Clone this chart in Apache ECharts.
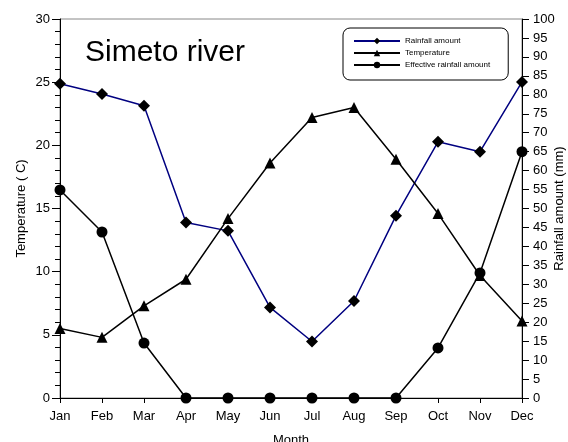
<!DOCTYPE html>
<html>
<head>
<meta charset="utf-8">
<script src="https://cdn.jsdelivr.net/npm/echarts@6/dist/echarts.min.js"></script>
<style>
  html, body { margin: 0; padding: 0; background: #fff; }
  #tuxing { width: 568px; height: 442px; }
</style>
</head>
<body>
<div id="tuxing"></div>
<script>
// 数据
var months = ['Jan', 'Feb', 'Mar', 'Apr', 'May', 'Jun', 'Jul', 'Aug', 'Sep', 'Oct', 'Nov', 'Dec'];
var rainfall = [82.9, 80.2, 77.1, 46.3, 44.1, 23.9, 14.9, 25.6, 48.1, 67.6, 65.0, 83.4];
var temperature = [5.5, 4.8, 7.3, 9.4, 14.2, 18.6, 22.2, 23.0, 18.9, 14.6, 9.7, 6.1];
var effectiveRain = [54.9, 43.8, 14.5, 0, 0, 0, 0, 0, 0, 13.2, 33.0, 65.0];

var myChart = echarts.init(document.getElementById('tuxing'));

var font = 'Liberation Sans, Arial, sans-serif';

option = {
	animation: false,
	title: {
		text: 'Simeto river',
		left: 80,
		top: 33,
		textStyle: {
			fontFamily: font,
			fontSize: 30,
			fontWeight: 'normal',
			color: '#000'
		}
	},
	legend: {
		left: 343,
		top: 28,
		orient: 'vertical',
		padding: [9, 18, 11, 10],
		itemGap: 4,
		itemWidth: 46,
		itemHeight: 8,
		borderColor: '#000',
		borderWidth: 1,
		borderRadius: 7,
		textStyle: {
			fontFamily: font,
			fontSize: 8,
			color: '#000'
		},
		data: ['Rainfall amount', 'Temperature', 'Effective rainfall amount']
	},
	grid: {
		left: 60,
		right: 46,
		top: 19,
		bottom: 44,
		outerBoundsMode: 'none',
		containLabel: false,
		show: true,
		borderColor: '#888',
		borderWidth: 1
	},
	xAxis: {
		type: 'category',
		boundaryGap: false,
		data: months,
		name: 'Month',
		nameLocation: 'center',
		nameGap: 36,
		nameMoveOverlap: false,
		nameTextStyle: { fontFamily: font, fontSize: 13, color: '#000' },
		axisLine: { lineStyle: { color: '#000' } },
		axisTick: { alignWithLabel: true, length: 5, lineStyle: { color: '#000' } },
		axisLabel: { fontFamily: font, fontSize: 13, color: '#000', margin: 12 },
		splitLine: { show: false }
	},
	yAxis: [{
		type: 'value',
		min: 0,
		max: 30,
		interval: 5,
		position: 'left',
		name: 'Temperature ( C)',
		nameLocation: 'center',
		nameGap: 32,
		nameMoveOverlap: false,
		nameTextStyle: { fontFamily: font, fontSize: 13, color: '#000' },
		axisLine: { show: true, lineStyle: { color: '#000' } },
		axisTick: { show: true, length: 8, lineStyle: { color: '#000' } },
		minorTick: { show: true, splitNumber: 5, length: 5, lineStyle: { color: '#000' } },
		axisLabel: { fontFamily: font, fontSize: 13, color: '#000', margin: 10 },
		splitLine: { show: false }
	}, {
		type: 'value',
		min: 0,
		max: 100,
		interval: 5,
		position: 'right',
		name: 'Rainfall amount (mm)',
		nameLocation: 'center',
		nameGap: 31,
		nameRotate: 90,
		nameMoveOverlap: false,
		nameTextStyle: { fontFamily: font, fontSize: 13, color: '#000' },
		axisLine: { show: true, lineStyle: { color: '#000' } },
		axisTick: { show: true, length: 7, lineStyle: { color: '#000' } },
		axisLabel: { fontFamily: font, fontSize: 13, color: '#000', margin: 11 },
		splitLine: { show: false }
	}],
	series: [{
		name: 'Rainfall amount',
		type: 'line',
		yAxisIndex: 1,
		data: rainfall,
		symbol: 'diamond',
		symbolSize: 12,
		lineStyle: { color: '#000080', width: 1.5 },
		itemStyle: { color: '#000' }
	}, {
		name: 'Temperature',
		type: 'line',
		yAxisIndex: 0,
		data: temperature,
		symbol: 'triangle',
		symbolSize: 11,
		lineStyle: { color: '#000', width: 1.5 },
		itemStyle: { color: '#000' }
	}, {
		name: 'Effective rainfall amount',
		type: 'line',
		yAxisIndex: 1,
		data: effectiveRain,
		symbol: 'circle',
		symbolSize: 11,
		lineStyle: { color: '#000', width: 1.5 },
		itemStyle: { color: '#000' }
	}]
};
myChart.setOption(option);
</script>
</body>
</html>
